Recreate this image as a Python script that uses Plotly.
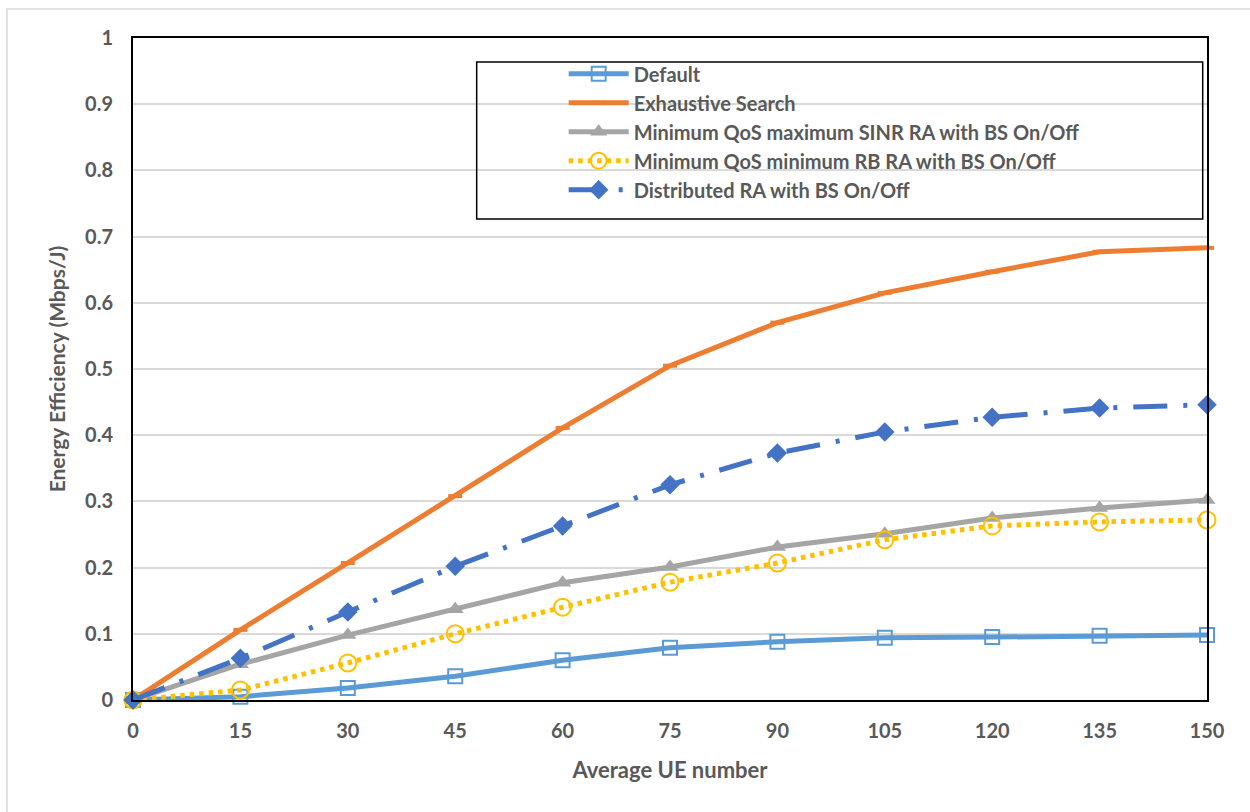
import plotly.graph_objects as go

ue_number = [0, 15, 30, 45, 60, 75, 90, 105, 120, 135, 150]

default_ee = [0.0, 0.005, 0.018, 0.036, 0.060, 0.079, 0.088, 0.094, 0.095, 0.097, 0.098]
exhaustive_ee = [0.0, 0.106, 0.207, 0.308, 0.411, 0.505, 0.570, 0.615, 0.647, 0.677, 0.683]
max_sinr_ee = [0.0, 0.054, 0.098, 0.137, 0.177, 0.201, 0.231, 0.251, 0.275, 0.290, 0.302]
min_rb_ee = [0.0, 0.015, 0.056, 0.100, 0.140, 0.178, 0.207, 0.242, 0.263, 0.269, 0.272]
distributed_ee = [0.0, 0.063, 0.133, 0.202, 0.263, 0.325, 0.373, 0.405, 0.427, 0.441, 0.446]

series_names = [
    "Default",
    "Exhaustive Search",
    "Minimum QoS maximum SINR RA with BS On/Off",
    "Minimum QoS minimum RB RA with BS On/Off",
    "Distributed RA with BS On/Off",
]

x_ticks = [0, 15, 30, 45, 60, 75, 90, 105, 120, 135, 150]
y_ticks = [0, 0.1, 0.2, 0.3, 0.4, 0.5, 0.6, 0.7, 0.8, 0.9, 1]
y_tick_text = ["0", "0.1", "0.2", "0.3", "0.4", "0.5", "0.6", "0.7", "0.8", "0.9", "1"]

FONT = "Lato, 'Open Sans', sans-serif"
TXT = "#595959"

fig = go.Figure()

fig.add_trace(go.Scatter(
    x=ue_number, y=default_ee, name=series_names[0], mode="lines+markers",
    line=dict(color="#5B9BD5", width=5),
    marker=dict(symbol="square-open", size=14, color="#5B9BD5", line=dict(width=2, color="#5B9BD5")),
    cliponaxis=False,
))
fig.add_trace(go.Scatter(
    x=ue_number, y=exhaustive_ee, name=series_names[1], mode="lines+markers",
    line=dict(color="#ED7D31", width=5),
    marker=dict(symbol="line-ew", size=10, color="#ED7D31", line=dict(width=4, color="#ED7D31")),
    cliponaxis=False,
))
fig.add_trace(go.Scatter(
    x=ue_number, y=max_sinr_ee, name=series_names[2], mode="lines+markers",
    line=dict(color="#A5A5A5", width=5),
    marker=dict(symbol="triangle-up", size=15, color="#A5A5A5"),
    cliponaxis=False,
))
fig.add_trace(go.Scatter(
    x=ue_number, y=min_rb_ee, name=series_names[3], mode="lines+markers",
    line=dict(color="#FFC000", width=5, dash="4.5px,5px"),
    marker=dict(symbol="circle-open", size=17, color="#FFC000", line=dict(width=2, color="#FFC000")),
    cliponaxis=False,
))
fig.add_trace(go.Scatter(
    x=ue_number, y=distributed_ee, name=series_names[4], mode="lines+markers",
    line=dict(color="#4472C4", width=5, dash="34px,16px,4px,16px"),
    marker=dict(symbol="diamond", size=15, color="#4472C4"),
    cliponaxis=False,
))

fig.update_layout(
    width=1250, height=812,
    margin=dict(l=133, r=43, t=38, b=112),
    paper_bgcolor="white", plot_bgcolor="white",
    font=dict(family=FONT, color=TXT, size=20),
    showlegend=True,
    legend=dict(
        x=0.401, y=0.9755, xanchor="left", yanchor="top",
        bgcolor="rgba(0,0,0,0)", borderwidth=0,
        font=dict(family=FONT, size=20, color=TXT, weight="bold"),
        itemwidth=60,
    ),
    xaxis=dict(
        range=[0, 150], tickmode="array", tickvals=x_ticks,
        showgrid=False, zeroline=False,
        showline=True, linecolor="black", linewidth=2, mirror=True,
        ticks="", tickfont=dict(family=FONT, size=20, color=TXT, weight="bold"),
        ticklabelstandoff=12,
        title=dict(text="Average UE number", font=dict(family=FONT, size=22, color=TXT, weight="bold"), standoff=22),
    ),
    yaxis=dict(
        range=[0, 1], tickmode="array", tickvals=y_ticks, ticktext=y_tick_text,
        showgrid=True, gridcolor="#D9D9D9", gridwidth=1.5, zeroline=False,
        showline=True, linecolor="black", linewidth=2, mirror=True,
        ticks="", tickfont=dict(family=FONT, size=20, color=TXT, weight="bold"),
        ticklabelstandoff=14,
        title=dict(text="Energy Efficiency (Mbps/J)", font=dict(family=FONT, size=21, color=TXT, weight="bold"), standoff=14),
    ),
    shapes=[
        # legend frame
        dict(type="rect", xref="paper", yref="paper",
             x0=0.320, x1=0.996, y0=0.7266, y1=0.9637,
             line=dict(color="black", width=1.5), fillcolor="rgba(0,0,0,0)", layer="above"),
        # outer chart frame
        dict(type="rect", xref="paper", yref="paper",
             x0=-0.1173, x1=1.06, y0=-0.25, y1=1.0438,
             line=dict(color="#D9D9D9", width=1.5), fillcolor="rgba(0,0,0,0)", layer="below"),
    ],
)

fig.write_html("out.html")
